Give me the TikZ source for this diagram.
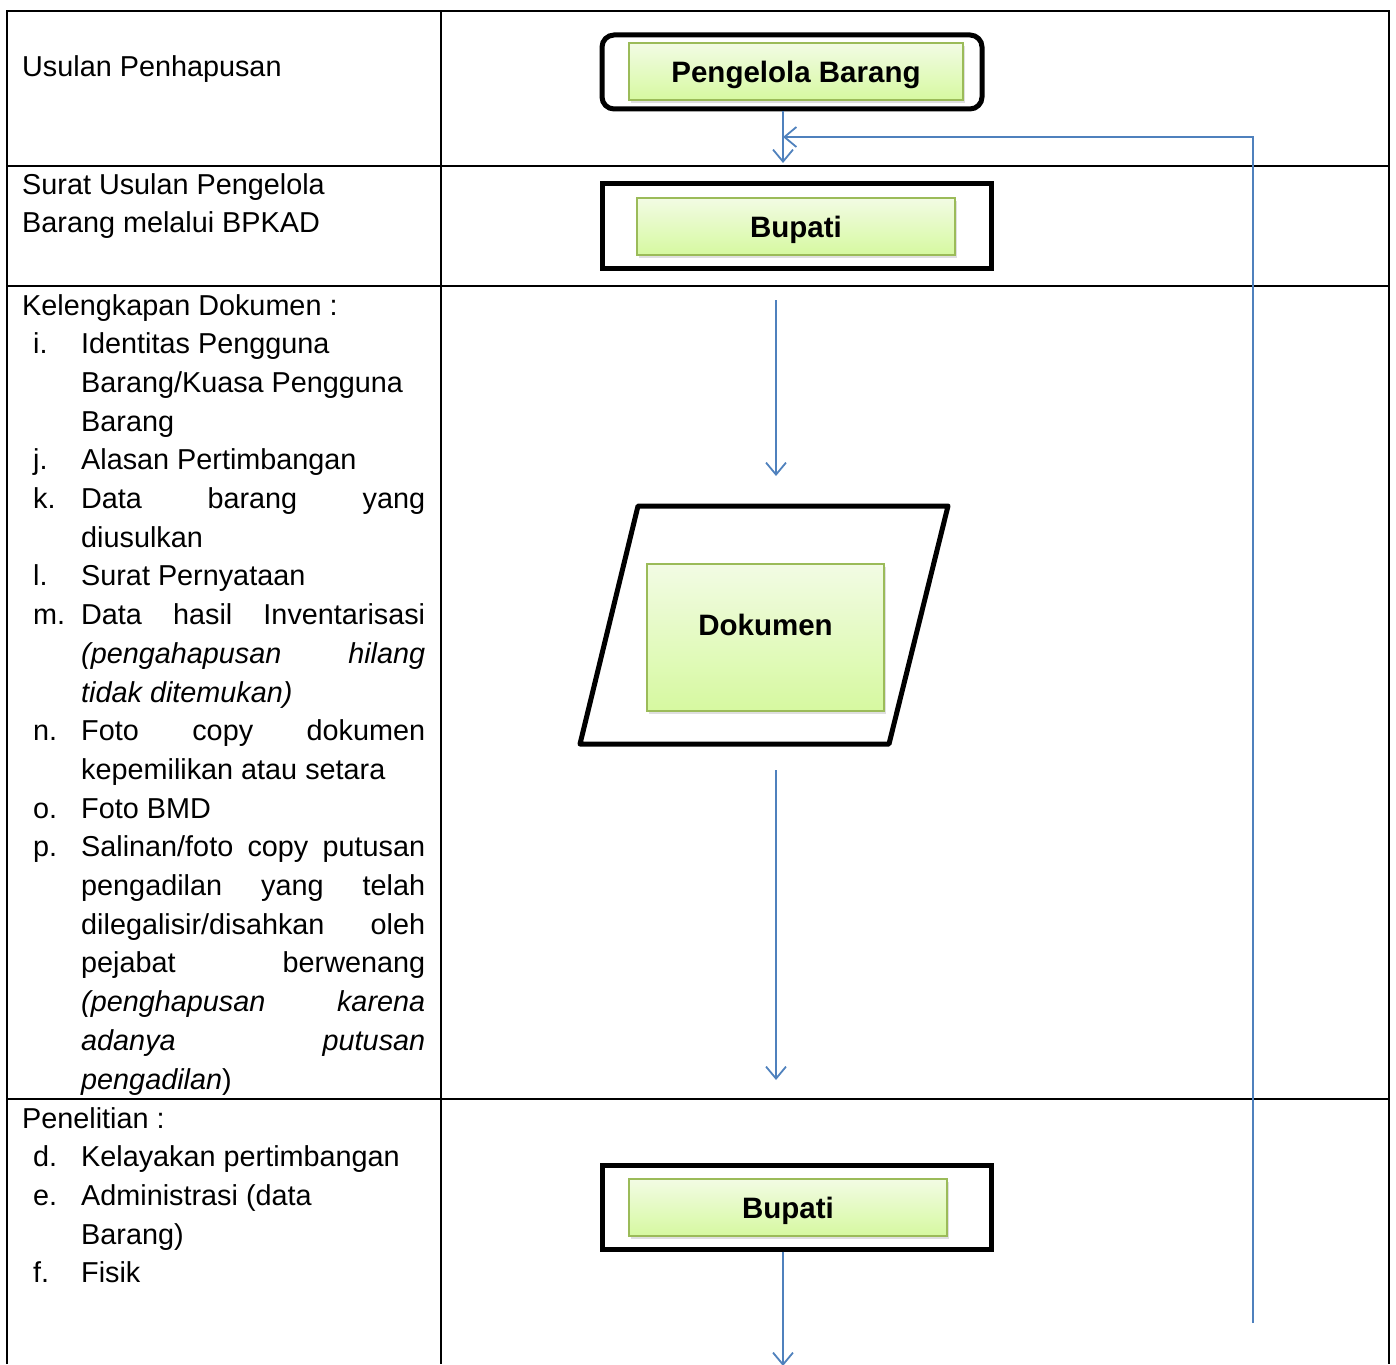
\documentclass[tikz,border=0pt]{standalone}
\usepackage{fontspec}
\setmainfont{Liberation Sans}
\usetikzlibrary{arrows.meta, shadows}
\definecolor{flowblue}{RGB}{79,129,189}
\definecolor{boxgreen}{RGB}{155,187,89}
\definecolor{gtop}{RGB}{242,251,228}
\definecolor{gbot}{RGB}{214,249,160}
% label column and justified lines of the list
\newcommand{\itm}[2]{\makebox[48pt][l]{#1}#2}
\newcommand{\jtm}[2]{\makebox[48pt][l]{#1}\makebox[344pt][s]{#2}}
\newcommand{\cnt}[1]{\hspace*{48pt}#1}
\newcommand{\jcnt}[1]{\hspace*{48pt}\makebox[344pt][s]{#1}}
\tikzset{
  txt/.style = {anchor=base west, inner sep=0pt, font=\fontsize{28.8}{38.7}\selectfont},
  outer/.style = {draw=black, line width=5pt},
  gbox/.style = {draw=boxgreen, line width=2pt, top color=gtop, bottom color=gbot,
    drop shadow={shadow xshift=2pt, shadow yshift=-3pt, opacity=0.25},
    text height=21pt, text depth=0pt,
    font=\fontsize{29.5}{34}\selectfont\bfseries},
  flow/.style = {draw=flowblue, line width=1.8pt,
    -{Straight Barb[length=12pt, width=20pt, line width=1.8pt]}},
}
\begin{document}
\begin{tikzpicture}[x=1pt, y=-1pt]
\useasboundingbox (0,0) rectangle (1396,1364);

% tabel
\draw[line width=1.3pt] (7,1364) -- (7,11) -- (1389,11) -- (1389,1364);
\draw[line width=1.3pt] (441,11) -- (441,1364);
\foreach \yy in {166,286,1099}
  \draw[line width=1.3pt] (7,\yy) -- (1389,\yy);

% kolom kiri
\node[txt] (t1) at (22,77) {Usulan Penhapusan};
\node[txt] (t2a) at (22,195) {Surat Usulan Pengelola};
\node[txt] (t2b) at (22,233) {Barang melalui BPKAD};
\node[txt] (t3) at (22,315) {Kelengkapan Dokumen :};
\foreach \line [count=\i] in {
  {\itm{i.}{Identitas Pengguna}},
  {\cnt{Barang/Kuasa Pengguna}},
  {\cnt{Barang}},
  {\itm{j.}{Alasan Pertimbangan}},
  {\jtm{k.}{Data barang yang}},
  {\cnt{diusulkan}},
  {\itm{l.}{Surat Pernyataan}},
  {\jtm{m.}{Data hasil Inventarisasi}},
  {\jcnt{\itshape (pengahapusan hilang}},
  {\cnt{\itshape tidak ditemukan)}},
  {\jtm{n.}{Foto copy dokumen}},
  {\cnt{kepemilikan atau setara}},
  {\itm{o.}{Foto BMD}},
  {\jtm{p.}{Salinan/foto copy putusan}},
  {\jcnt{pengadilan yang telah}},
  {\jcnt{dilegalisir/disahkan oleh}},
  {\jcnt{pejabat berwenang}},
  {\jcnt{\itshape (penghapusan karena}},
  {\jcnt{\itshape adanya putusan}},
  {\cnt{\textit{pengadilan})}}}
  \node[txt] (k\i) at (33,315+38.7*\i) {\line};
\node[txt] (t4) at (22,1128) {Penelitian :};
\foreach \line [count=\i] in {
  {\itm{d.}{Kelayakan pertimbangan}},
  {\itm{e.}{Administrasi (data}},
  {\cnt{Barang)}},
  {\itm{f.}{Fisik}}}
  \node[txt] (p\i) at (33,1128+38.7*\i) {\line};

% kotak proses
\node[outer, rounded corners=12pt, minimum width=380pt, minimum height=74pt] (pbo) at (792,72) {};
\node[gbox, minimum width=334pt, minimum height=57pt] (pb) at (796,72) {Pengelola Barang};

\node[outer, minimum width=389pt, minimum height=84pt] (bp1o) at (796.5,226) {};
\node[gbox, minimum width=318pt, minimum height=57pt] (bp1) at (796,226.5) {Bupati};

\draw[outer, line join=round] (638,506) -- (948,506) -- (889,744) -- (580,744) -- cycle;
\node[gbox, minimum width=237pt, minimum height=147pt] (dok) at (765.5,637.5) {};
\node[inner sep=0pt, text height=21pt, text depth=0pt,
  font=\fontsize{29.5}{34}\selectfont\bfseries] (dokt) at (765.5,625) {Dokumen};

\node[outer, minimum width=389pt, minimum height=84pt] (bp2o) at (796.5,1207) {};
\node[gbox, minimum width=318pt, minimum height=57pt] (bp2) at (788,1207.5) {Bupati};

% panah
\coordinate (a1) at (783,163);
\coordinate (rb) at (1253,1323);
\coordinate (rt) at (1253,137);
\coordinate (ra) at (783,137);
\coordinate (d1s) at (776,300);
\coordinate (d1e) at (776,476);
\coordinate (d2s) at (776,770);
\coordinate (d2e) at (776,1080);
\coordinate (a5) at (783,1366);
\draw[flow] (pbo.south -| a1) -- (a1);
\draw[flow] (rb) -- (rt) -- (ra);
\draw[flow] (d1s) -- (d1e);
\draw[flow] (d2s) -- (d2e);
\draw[flow] (bp2o.south -| a5) -- (a5);
\end{tikzpicture}
\end{document}
